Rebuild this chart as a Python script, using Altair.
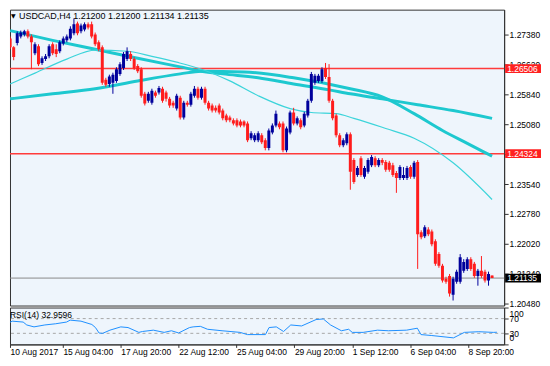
import altair as alt
import pandas as pd

# ---------------- data ----------------
OPEN = [1.2728,1.2705,1.2716,1.2733,1.2738,1.2746,1.2733,1.2690,1.2708,1.2665,
        1.2675,1.2682,1.2713,1.2700,1.2695,1.2715,1.2723,1.2728,1.2741,1.2766,
        1.2746,1.2751,1.2764,1.2764,1.2738,1.2718,1.2705,1.2622,1.2611,1.2614,
        1.2619,1.2637,1.2652,1.2675,1.2688,1.2675,1.2657,1.2649,1.2586,1.2568,
        1.2563,1.2589,1.2589,1.2599,1.2589,1.2573,1.2563,1.2548,1.2576,1.2525,
        1.2563,1.2558,1.2581,1.2599,1.2576,1.2599,1.2563,1.2556,1.2550,1.2556,
        1.2543,1.2530,1.2525,1.2518,1.2518,1.2515,1.2515,1.2510,1.2472,1.2467,
        1.2467,1.2480,1.2467,1.2447,1.2487,1.2505,1.2510,1.2510,1.2441,1.2487,
        1.2538,1.2510,1.2518,1.2505,1.2530,1.2568,1.2614,1.2619,1.2619,1.2652,
        1.2629,1.2568,1.2530,1.2480,1.2454,1.2459,1.2482,1.2416,1.2378,1.2421,
        1.2373,1.2386,1.2403,1.2421,1.2403,1.2416,1.2411,1.2409,1.2403,1.2383,
        1.2370,1.2370,1.2370,1.2398,1.2373,1.2411,1.2231,1.2221,1.2238,1.2233,
        1.2208,1.2175,1.2145,1.2112,1.2119,1.2071,1.2104,1.2104,1.2132,1.2137,
        1.2162,1.2150,1.2119,1.2132,1.2130,1.2107,1.2120]
HIGH = [1.2733,1.2708,1.2746,1.2748,1.2750,1.2751,1.2738,1.2718,1.2713,1.2682,
        1.2688,1.2713,1.2718,1.2713,1.2723,1.2733,1.2738,1.2759,1.2779,1.2771,
        1.2766,1.2769,1.2769,1.2771,1.2743,1.2723,1.2710,1.2627,1.2635,1.2640,
        1.2654,1.2667,1.2693,1.2705,1.2695,1.2680,1.2662,1.2654,1.2591,1.2591,
        1.2599,1.2594,1.2606,1.2604,1.2594,1.2578,1.2568,1.2586,1.2581,1.2568,
        1.2568,1.2591,1.2606,1.2604,1.2604,1.2604,1.2568,1.2561,1.2556,1.2561,
        1.2548,1.2535,1.2530,1.2523,1.2523,1.2520,1.2518,1.2515,1.2490,1.2485,
        1.2490,1.2485,1.2472,1.2497,1.2510,1.2543,1.2515,1.2515,1.2502,1.2543,
        1.2550,1.2528,1.2523,1.2540,1.2573,1.2642,1.2637,1.2637,1.2654,1.2665,
        1.2662,1.2573,1.2535,1.2485,1.2472,1.2487,1.2487,1.2421,1.2401,1.2426,
        1.2401,1.2421,1.2429,1.2426,1.2421,1.2421,1.2416,1.2414,1.2409,1.2388,
        1.2403,1.2398,1.2401,1.2403,1.2414,1.2416,1.2236,1.2249,1.2244,1.2238,
        1.2213,1.2180,1.2150,1.2117,1.2124,1.2117,1.2135,1.2175,1.2162,1.2167,
        1.2167,1.2155,1.2137,1.2170,1.2135,1.2130,1.2120]
LOW = [1.2700,1.2672,1.2710,1.2728,1.2733,1.2728,1.2649,1.2685,1.2657,1.2660,
       1.2670,1.2677,1.2685,1.2680,1.2690,1.2710,1.2718,1.2723,1.2736,1.2736,
       1.2741,1.2746,1.2751,1.2728,1.2708,1.2695,1.2609,1.2604,1.2604,1.2586,
       1.2614,1.2632,1.2647,1.2670,1.2670,1.2647,1.2639,1.2576,1.2556,1.2563,
       1.2558,1.2576,1.2584,1.2563,1.2566,1.2550,1.2550,1.2543,1.2520,1.2520,
       1.2553,1.2553,1.2576,1.2571,1.2571,1.2558,1.2543,1.2538,1.2538,1.2533,
       1.2518,1.2513,1.2513,1.2505,1.2500,1.2500,1.2500,1.2462,1.2467,1.2462,
       1.2462,1.2457,1.2441,1.2441,1.2482,1.2500,1.2495,1.2436,1.2436,1.2482,
       1.2505,1.2505,1.2495,1.2500,1.2525,1.2563,1.2609,1.2614,1.2614,1.2624,
       1.2563,1.2518,1.2474,1.2449,1.2449,1.2454,1.2340,1.2355,1.2373,1.2373,
       1.2368,1.2381,1.2398,1.2398,1.2398,1.2403,1.2386,1.2386,1.2373,1.2332,
       1.2365,1.2365,1.2365,1.2368,1.2368,1.2137,1.2213,1.2216,1.2221,1.2195,
       1.2145,1.2140,1.2102,1.2099,1.2066,1.2056,1.2099,1.2099,1.2127,1.2132,
       1.2132,1.2114,1.2094,1.2114,1.2102,1.2094,1.21134]
CLOSE = [1.2705,1.2680,1.2741,1.2743,1.2746,1.2733,1.2718,1.2713,1.2662,1.2677,
         1.2682,1.2708,1.2690,1.2688,1.2718,1.2728,1.2733,1.2753,1.2764,1.2741,
         1.2761,1.2764,1.2756,1.2733,1.2713,1.2700,1.2614,1.2609,1.2630,1.2635,
         1.2649,1.2662,1.2688,1.2695,1.2675,1.2652,1.2644,1.2581,1.2561,1.2586,
         1.2594,1.2581,1.2601,1.2568,1.2573,1.2556,1.2556,1.2581,1.2525,1.2563,
         1.2558,1.2586,1.2599,1.2576,1.2599,1.2563,1.2548,1.2543,1.2543,1.2538,
         1.2523,1.2518,1.2518,1.2510,1.2505,1.2505,1.2505,1.2467,1.2485,1.2480,
         1.2485,1.2462,1.2447,1.2492,1.2505,1.2535,1.2500,1.2441,1.2497,1.2538,
         1.2510,1.2523,1.2500,1.2535,1.2568,1.2637,1.2632,1.2632,1.2649,1.2629,
         1.2568,1.2523,1.2480,1.2454,1.2467,1.2482,1.2386,1.2360,1.2396,1.2378,
         1.2396,1.2416,1.2424,1.2403,1.2416,1.2409,1.2391,1.2391,1.2378,1.2370,
         1.2398,1.2378,1.2396,1.2373,1.2409,1.2226,1.2218,1.2244,1.2226,1.2200,
         1.2150,1.2145,1.2107,1.2104,1.2074,1.2112,1.2130,1.2167,1.2155,1.2162,
         1.2137,1.2119,1.2132,1.2119,1.2107,1.2124,1.21135]

MA_SLOW_BAR = [0, 12, 24, 36, 48, 54, 60, 70, 80, 90, 96, 105, 115, 125, 136]
MA_SLOW = [1.2748, 1.2723, 1.2700, 1.2677, 1.2655, 1.2644, 1.2637, 1.2627, 1.2611,
           1.2596, 1.2586, 1.2573, 1.2558, 1.2543, 1.2523]
MA_MID_BAR = [0, 12, 24, 36, 48, 54, 66, 80, 96, 105, 114, 122, 129, 136]
MA_MID = [1.2573, 1.2586, 1.2599, 1.2619, 1.2637, 1.2644, 1.2642, 1.2627, 1.2599,
          1.2578, 1.2535, 1.2492, 1.2459, 1.2426]
MA_FAST_BAR = [0, 7, 16, 24, 33, 40, 47, 54, 62, 70, 79, 85, 92, 97, 106, 114, 125, 136]
MA_FAST = [1.2611, 1.2639, 1.2675, 1.2698, 1.2695, 1.2682, 1.2667, 1.2649, 1.2619,
           1.2581, 1.2548, 1.2538, 1.2535, 1.2523, 1.2497, 1.2472, 1.2409, 1.2315]

RSI_BAR = [0, 2, 5, 6, 8, 11, 14, 17, 18, 21, 24, 25, 26, 27, 29, 32, 34, 37, 38, 41,
           44, 46, 48, 51, 52, 54, 56, 60, 65, 67, 72, 73, 75, 77, 79, 82, 86, 88, 90,
           93, 95, 96, 99, 103, 106, 111, 114, 115, 118, 124, 127, 131, 135, 136]
RSI_VAL = [54, 63, 60.6, 52.7, 47.5, 52.7, 56, 60.6, 65.8, 63, 54, 45.7, 30.8, 30, 38.6,
           47.5, 45.7, 32.6, 35, 38.6, 32.6, 37, 31, 45.7, 47.5, 49, 41, 37, 32.6, 26.6,
           26.6, 45.7, 47.5, 35, 52.7, 50, 67.4, 69, 52.7, 37, 41, 32.6, 32.6, 38.6, 37,
           38.6, 43.9, 26.6, 24, 17.7, 32.6, 34.4, 32.6, 32.96]
RSI_LEVELS = [30, 70]
RSI_TICKS = [0, 30, 70, 100]

TIME_BARS = [1.4, 16, 32, 48, 64, 80, 96, 112, 128]
TIME_LABELS = ["10 Aug 2017", "15 Aug 04:00", "17 Aug 20:00", "22 Aug 12:00",
               "25 Aug 04:00", "29 Aug 20:00", "1 Sep 12:00", "6 Sep 04:00",
               "8 Sep 20:00"]
PRICE_TICKS = [1.2738, 1.2662, 1.2584, 1.2508, 1.2431, 1.2354, 1.2278, 1.2202,
               1.2124, 1.2048]
LEVELS = [1.26506, 1.24324]
LAST_PRICE = 1.21135
HEADER = "USDCAD,H4  1.21200 1.21200 1.21134 1.21135"
RSI_TITLE = "RSI(14) 32.9596"

# ---------------- layout / style ----------------
W, H1, H2 = 496, 297, 37
XDOM = [1.364, 138.0]
YDOM = [1.20431, 1.28017]
BULL, BEAR = "#00009C", "#FF1C1C"
FONT = "Liberation Sans"

xs = alt.Scale(domain=XDOM, nice=False, zero=False)
ys = alt.Scale(domain=YDOM, nice=False, zero=False)
yaxis = alt.Axis(orient="right", values=PRICE_TICKS, format=".5f", tickSize=4,
                 labelPadding=1, labelFontSize=8.5, labelColor="black",
                 domainColor="#333333", tickColor="#333333", grid=False,
                 title=None, labelOverlap=False, labelFont=FONT)

candles = pd.DataFrame({"i": list(range(len(OPEN))), "o": OPEN, "h": HIGH,
                        "l": LOW, "c": CLOSE})
candles["dir"] = ["bull" if c >= o else "bear" for o, c in zip(OPEN, CLOSE)]
cscale = alt.Scale(domain=["bull", "bear"], range=[BULL, BEAR])

X = alt.X("i:Q", scale=xs, axis=None)

wicks = alt.Chart(candles).mark_rule(strokeWidth=1, clip=True).encode(
    x=X, y=alt.Y("l:Q", scale=ys, axis=yaxis), y2="h:Q",
    color=alt.Color("dir:N", scale=cscale, legend=None))
bodies = alt.Chart(candles).mark_bar(size=3, clip=True).encode(
    x=X, y=alt.Y("o:Q", scale=ys, axis=yaxis), y2="c:Q",
    color=alt.Color("dir:N", scale=cscale, legend=None))

def ma_layer(bars, vals, width, color):
    df = pd.DataFrame({"i": bars, "p": vals})
    return alt.Chart(df).mark_line(strokeWidth=width, color=color, clip=True,
                                   interpolate="monotone").encode(
        x=X, y=alt.Y("p:Q", scale=ys, axis=yaxis))

ma_slow = ma_layer(MA_SLOW_BAR, MA_SLOW, 3, "#1DC8CF")
ma_mid = ma_layer(MA_MID_BAR, MA_MID, 3, "#1DC8CF")
ma_fast = ma_layer(MA_FAST_BAR, MA_FAST, 1.2, "#3CD4DA")

lv = pd.DataFrame({"p": LEVELS})
level_rules = alt.Chart(lv).mark_rule(color="#FF3B3B", strokeWidth=1.5).encode(
    y=alt.Y("p:Q", scale=ys, axis=yaxis))
last_rule = alt.Chart(pd.DataFrame({"p": [LAST_PRICE]})).mark_rule(
    color="#8A8A8A", strokeWidth=1).encode(y=alt.Y("p:Q", scale=ys, axis=yaxis))

boxes = pd.DataFrame({"p": LEVELS + [LAST_PRICE],
                      "label": [f"{v:.5f}" for v in LEVELS + [LAST_PRICE]],
                      "bg": ["#FF2020", "#FF2020", "#000000"]})
box_rect = alt.Chart(boxes).transform_calculate(
    lo="datum.p - 0.00112", hi="datum.p + 0.00112"
).mark_rect(clip=False).encode(
    x=alt.value(W + 1), x2=alt.value(W + 37),
    y=alt.Y("lo:Q", scale=ys, axis=yaxis), y2="hi:Q",
    color=alt.Color("bg:N", scale=None))
box_text = alt.Chart(boxes).mark_text(align="left", baseline="middle", color="white",
                                      fontSize=8.5, font=FONT, clip=False).encode(
    x=alt.value(W + 3), y=alt.Y("p:Q", scale=ys, axis=yaxis), text="label:N")

hdr = pd.DataFrame({"t": [HEADER]})
header = alt.Chart(hdr).mark_text(align="left", baseline="middle", fontSize=9,
                                  font=FONT, color="black").encode(
    x=alt.value(9), y=alt.value(6), text="t:N")
tri = alt.Chart(pd.DataFrame({"t": ["▼"]})).mark_text(
    align="left", baseline="middle", fontSize=6, font="DejaVu Sans",
    color="black").encode(x=alt.value(1), y=alt.value(6), text="t:N")

main = alt.layer(level_rules, last_rule, ma_slow, ma_mid, ma_fast, wicks, bodies,
                 box_rect, box_text, header, tri).properties(width=W, height=H1)

# ---------------- RSI pane ----------------
label_list = "[" + ",".join(f"'{t}'" for t in TIME_LABELS) + "]"
xaxis = alt.Axis(values=TIME_BARS, labelExpr=f"{label_list}[round(datum.value/16)]",
                 labelAlign="left", labelBaseline="top", tickSize=3, labelPadding=0,
                 labelFontSize=8.5, labelColor="black", labelFont=FONT,
                 domainColor="#333333", tickColor="#333333", grid=False,
                 title=None, labelOverlap=False, labelBound=False, labelFlush=False)
rs = alt.Scale(domain=[0, 100], nice=False, zero=False)
raxis = alt.Axis(orient="right", values=RSI_TICKS, tickSize=4, labelPadding=1,
                 labelFontSize=8.5, labelColor="black", labelFont=FONT,
                 domainColor="#333333", tickColor="#333333", grid=False, title=None,
                 labelOverlap=False, labelFlush=True, labelFlushOffset=-2)

rsi_df = pd.DataFrame({"i": RSI_BAR, "v": RSI_VAL})
rsi_line = alt.Chart(rsi_df).mark_line(color="#1E90FF", strokeWidth=1, clip=True).encode(
    x=alt.X("i:Q", scale=xs, axis=xaxis), y=alt.Y("v:Q", scale=rs, axis=raxis))
rsi_lv = alt.Chart(pd.DataFrame({"v": RSI_LEVELS})).mark_rule(
    color="#A8A8A8", strokeDash=[3, 3], strokeWidth=1).encode(
    y=alt.Y("v:Q", scale=rs, axis=raxis))
rsi_txt = alt.Chart(pd.DataFrame({"t": [RSI_TITLE]})).mark_text(
    align="left", baseline="middle", fontSize=8.5, font=FONT, color="black").encode(
    x=alt.value(0), y=alt.value(8), text="t:N")

rsi = alt.layer(rsi_lv, rsi_line, rsi_txt).properties(width=W, height=H2)

chart = alt.vconcat(main, rsi, spacing=2, bounds="flush").properties(
    padding=0, background="white"
).configure_view(stroke="#333333", strokeWidth=1, fill="#EEF5FC")

chart.save("out.html", embed_options={"renderer": "svg", "actions": False})
